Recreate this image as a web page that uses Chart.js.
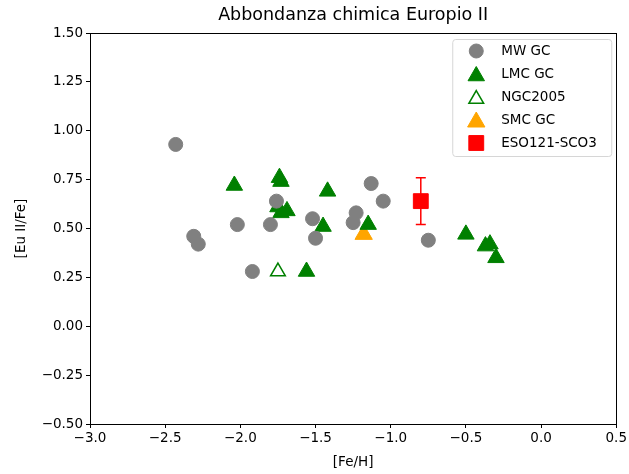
<!DOCTYPE html>
<html>
<head>
<meta charset="utf-8">
<script src="https://cdn.jsdelivr.net/npm/chart.js@4/dist/chart.umd.min.js"></script>
<style>
  html, body { margin: 0; padding: 0; background: #fff; }
  #grafico { display: block; }
</style>
</head>
<body>
<canvas id="grafico" width="629" height="474"></canvas>
<script>
// --- dati ---
const mwFeH = [-2.43, -2.31, -2.28, -2.02, -1.92, -1.80, -1.76, -1.52, -1.50, -1.25, -1.23, -1.13, -1.05, -0.75];
const mwEu  = [ 0.93,  0.46,  0.42,  0.52,  0.28,  0.52,  0.64,  0.55,  0.45,  0.53,  0.58,  0.73,  0.64,  0.44];

const lmcFeH = [-2.04, -1.74, -1.73, -1.75, -1.73, -1.69, -1.42, -1.45, -1.15, -1.56, -0.50, -0.37, -0.34, -0.30];
const lmcEu  = [ 0.72,  0.76,  0.74,  0.61,  0.58,  0.59,  0.69,  0.51,  0.52,  0.28,  0.47,  0.41,  0.42,  0.35];

const ngcFeH = [-1.75];
const ngcEu  = [ 0.28];

const smcFeH = [-1.18];
const smcEu  = [ 0.47];

const esoFeH = [-0.80];
const esoEu  = [ 0.64];
const esoErr = [ 0.12];

const etichette = ['MW GC', 'LMC GC', 'NGC2005', 'SMC GC', 'ESO121-SCO3'];
const xTicks = [-3.0, -2.5, -2.0, -1.5, -1.0, -0.5, 0.0, 0.5];
const yTicks = [-0.50, -0.25, 0.00, 0.25, 0.50, 0.75, 1.00, 1.25, 1.50];

const punti = (xs, ys) => xs.map((x, i) => ({ x: x, y: ys[i] }));
const meno = s => s.replace('-', '\u2212');
const FONT = 'DejaVu Sans';

// stile dei marker per serie (anche per la legenda)
const stili = [
  { pointStyle: 'circle',   pointRadius: 7,    backgroundColor: '#808080', borderColor: '#808080', borderWidth: 1 },
  { pointStyle: 'triangle', pointRadius: 9.5,  backgroundColor: '#008000', borderColor: '#008000', borderWidth: 1 },
  { pointStyle: 'triangle', pointRadius: 8.5,  backgroundColor: 'rgba(0,0,0,0)', borderColor: '#008000', borderWidth: 1.5 },
  { pointStyle: 'triangle', pointRadius: 10,   backgroundColor: '#ffa500', borderColor: '#ffa500', borderWidth: 1 },
  { pointStyle: 'rect',     pointRadius: 10.5, backgroundColor: '#ff0000', borderColor: '#ff0000', borderWidth: 1 }
];

// barre d'errore + cornice + titolo + legenda
const extra = {
  id: 'extra',
  beforeDatasetsDraw(chart) {
    const ctx = chart.ctx, xs = chart.scales.x, ys = chart.scales.y;
    ctx.save();
    ctx.strokeStyle = '#ff0000';
    ctx.lineWidth = 1.5;
    esoFeH.forEach((v, i) => {
      const px = xs.getPixelForValue(v);
      const top = ys.getPixelForValue(esoEu[i] + esoErr[i]);
      const bot = ys.getPixelForValue(esoEu[i] - esoErr[i]);
      ctx.beginPath();
      ctx.moveTo(px, top); ctx.lineTo(px, bot);
      ctx.moveTo(px - 5, top); ctx.lineTo(px + 5, top);
      ctx.moveTo(px - 5, bot); ctx.lineTo(px + 5, bot);
      ctx.stroke();
    });
    ctx.restore();
  },
  afterDraw(chart) {
    const ctx = chart.ctx, a = chart.chartArea;
    ctx.save();
    // cornice
    ctx.strokeStyle = '#000';
    ctx.lineWidth = 1;
    ctx.strokeRect(Math.round(a.left) + 0.5, Math.round(a.top) + 0.5, Math.round(a.right - a.left), Math.round(a.bottom - a.top));
    // titolo
    ctx.fillStyle = '#000';
    ctx.font = '17.5px "' + FONT + '"';
    ctx.textAlign = 'center';
    ctx.textBaseline = 'middle';
    ctx.fillText('Abbondanza chimica Europio II', (a.left + a.right) / 2, 15);
    // legenda
    const w = 159, h = 117;
    const bx = a.right - 5 - w, by = a.top + 6;
    ctx.beginPath();
    ctx.roundRect(bx + 0.5, by + 0.5, w, h, 3);
    ctx.fillStyle = 'rgba(255,255,255,0.8)';
    ctx.fill();
    ctx.strokeStyle = '#d6d6d6';
    ctx.stroke();
    ctx.font = '13.5px "' + FONT + '"';
    ctx.textAlign = 'left';
    etichette.forEach((t, i) => {
      const yy = by + 12 + i * 23;
      const s = stili[i];
      ctx.fillStyle = s.backgroundColor;
      ctx.strokeStyle = s.borderColor;
      ctx.lineWidth = s.borderWidth;
      Chart.helpers.drawPoint(ctx, { pointStyle: s.pointStyle, radius: s.pointRadius, borderWidth: s.borderWidth }, bx + 24, yy + (s.pointStyle === 'triangle' ? 2 : 0));
      ctx.fillStyle = '#000';
      ctx.fillText(t, bx + 49, yy);
    });
    ctx.restore();
  }
};

const serieX = [mwFeH, lmcFeH, ngcFeH, smcFeH, esoFeH];
const serieY = [mwEu, lmcEu, ngcEu, smcEu, esoEu];

new Chart(document.getElementById('grafico'), {
  type: 'scatter',
  data: {
    datasets: etichette.map((lab, i) => Object.assign({
      label: lab,
      data: punti(serieX[i], serieY[i]),
      pointHoverRadius: stili[i].pointRadius
    }, stili[i]))
  },
  options: {
    responsive: false,
    animation: false,
    layout: { padding: { top: 33, right: 12, left: 0, bottom: 0 } },
    plugins: {
      legend: { display: false },
      title: { display: false },
      tooltip: { enabled: false }
    },
    scales: {
      x: {
        type: 'linear',
        min: -3.0, max: 0.5,
        afterBuildTicks: s => { s.ticks = xTicks.map(v => ({ value: v })); },
        afterFit: s => { s.height = 50; },
        grid: { drawOnChartArea: false, drawTicks: true, tickLength: 4, color: '#000' },
        border: { display: true, color: '#000' },
        ticks: {
          color: '#000', padding: 2,
          font: { family: FONT, size: 13.5 },
          callback: v => meno(v.toFixed(1))
        },
        title: { display: true, text: '[Fe/H]', color: '#000', font: { family: FONT, size: 13.5 }, padding: { top: 2, bottom: 3 } }
      },
      y: {
        type: 'linear',
        min: -0.5, max: 1.5,
        afterBuildTicks: s => { s.ticks = yTicks.map(v => ({ value: v })); },
        afterFit: s => { s.width = 90; },
        grid: { drawOnChartArea: false, drawTicks: true, tickLength: 4, color: '#000' },
        border: { display: true, color: '#000' },
        ticks: {
          color: '#000', padding: 3,
          font: { family: FONT, size: 13.5 },
          callback: v => meno(v.toFixed(2))
        },
        title: { display: true, text: '[Eu II/Fe]', color: '#000', font: { family: FONT, size: 13.5 }, padding: { top: 13, bottom: 0 } }
      }
    }
  },
  plugins: [extra]
});
</script>
</body>
</html>
